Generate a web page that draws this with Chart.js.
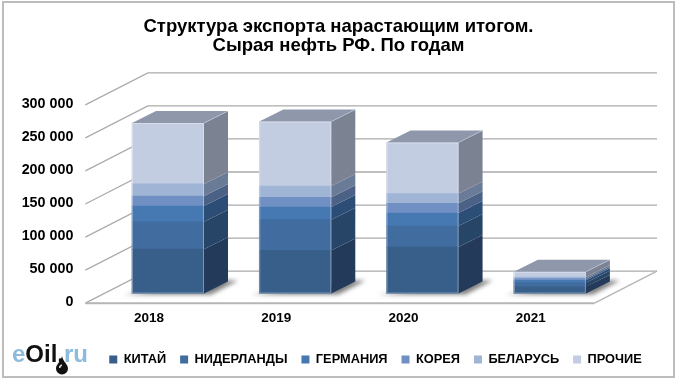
<!DOCTYPE html>
<html lang="ru">
<head>
  <meta charset="UTF-8" />
  <title>Структура экспорта</title>
  <script src="https://cdn.jsdelivr.net/npm/chart.js"></script>
  <style>
    body { margin: 0; background: #fff; }
    #wrap { position: relative; width: 680px; height: 384px; overflow: hidden; }
    canvas { position: absolute; left: 0; top: 0; }
    #frame {
      position: absolute; left: 2px; top: 1px; width: 669px; height: 373px;
      border: 2px solid #bdbdbd; pointer-events: none;
    }
    #logo {
      position: absolute; left: 12px; top: 340px; white-space: nowrap;
      font: bold 24px "Liberation Sans", Arial, sans-serif; color: #8dbbdc;
      filter: blur(0.5px);
    }
    #logo b { color: #111; }
    #drop { position: absolute; left: 55px; top: 355px; }
  </style>
</head>
<body>
  <div id="wrap">
    <canvas id="chart" width="680" height="384"></canvas>
    <div id="logo">e<b>Oil.</b>ru</div>
    <svg id="drop" width="14" height="20" viewBox="0 0 14 20">
      <path d="M7 1 C8 7 13 9 13 13.5 A6 6 0 0 1 1 13.5 C1 9 6 7 7 1 Z" fill="#111" />
      <path d="M4 13 A3 3 0 0 1 7 9.5 L7 11 A2 2 0 0 0 5.4 13 Z" fill="#ddd" />
    </svg>
    <div id="frame"></div>
  </div>

  <script>
    const years = ["2018", "2019", "2020", "2021"];
    const seriesNames = ["КИТАЙ", "НИДЕРЛАНДЫ", "ГЕРМАНИЯ", "КОРЕЯ", "БЕЛАРУСЬ", "ПРОЧИЕ"];
    const china = [67100, 65200, 70200, 10200];
    const netherlands = [41400, 46400, 31800, 6200];
    const germany = [23800, 19200, 19700, 3700];
    const korea = [15200, 14700, 14700, 2300];
    const belarus = [18200, 17100, 14700, 2400];
    const others = [92000, 97400, 77300, 8000];
    const seriesValues = [china, netherlands, germany, korea, belarus, others];

    const frontColors = ["#385e8a", "#416ca0", "#4678b2", "#7090c4", "#a0b4d6", "#c2cde2"];
    const sideColors = ["#243a5a", "#274566", "#2c4d76", "#4b6186", "#6a7b97", "#7b8393"];
    const topColor = "#8f98ab";

    const FONT = '"Liberation Sans", Arial, sans-serif';
    // 3d offsets, px from the plane the bars stand on
    const barDepth = { x: 24, y: -12 };
    const front = { x: -19, y: 9.7 };
    const back = { x: 43.5, y: -22.3 };

    const poly = (ctx, pts) => {
      ctx.beginPath();
      pts.forEach((p, i) => (i ? ctx.lineTo(p[0], p[1]) : ctx.moveTo(p[0], p[1])));
      ctx.closePath();
    };

    const pseudo3d = {
      id: "pseudo3d",
      afterLayout(chart) {
        // title and legend are not centred on the plot in the reference
        chart.titleBlock.left = 0;
        chart.titleBlock.right = 677;
        chart.legend.left = 71;
        chart.legend.right = 680;
      },
      beforeDatasetsDraw(chart) {
        const { ctx, chartArea: a, scales } = chart;
        const y = scales.y;
        ctx.save();
        ctx.strokeStyle = "#ababab";
        ctx.lineWidth = 1.3;
        y.ticks.forEach(t => {
          const py = y.getPixelForValue(t.value);
          ctx.beginPath();
          ctx.moveTo(a.left + front.x, py + front.y);
          ctx.lineTo(a.left + back.x, py + back.y);
          ctx.lineTo(a.right + back.x, py + back.y);
          ctx.stroke();
        });
        // floor
        const by = y.getPixelForValue(0);
        ctx.strokeStyle = "#b5b5b5";
        ctx.lineWidth = 2;
        ctx.beginPath();
        ctx.moveTo(a.left + front.x, by + front.y);
        ctx.lineTo(a.right + front.x, by + front.y);
        ctx.stroke();
        ctx.lineWidth = 1.3;
        ctx.beginPath();
        ctx.moveTo(a.right + front.x, by + front.y);
        ctx.lineTo(a.right + back.x, by + back.y);
        ctx.stroke();
        // shadows under the bars
        ctx.filter = "blur(2px)";
        ctx.fillStyle = "rgba(0,0,0,0.5)";
        chart.getDatasetMeta(0).data.forEach(b => {
          const l = b.x - b.width / 2, r = b.x + b.width / 2;
          poly(ctx, [[l - 8, b.base + 1], [r + 7, b.base + 1], [r + 34, b.base - 13], [r + 24, b.base - 13]]);
          ctx.fill();
        });
        ctx.restore();
      },
      afterDatasetsDraw(chart) {
        const { ctx } = chart;
        const n = seriesValues.length;
        ctx.save();
        seriesValues.forEach((vals, i) => {
          chart.getDatasetMeta(i).data.forEach(b => {
            const r = b.x + b.width / 2;
            ctx.fillStyle = sideColors[i];
            poly(ctx, [[r, b.y], [r + barDepth.x, b.y + barDepth.y], [r + barDepth.x, b.base + barDepth.y], [r, b.base]]);
            ctx.fill();
          });
        });
        chart.getDatasetMeta(n - 1).data.forEach((b, k) => {
          const l = b.x - b.width / 2, r = b.x + b.width / 2;
          const base = chart.getDatasetMeta(0).data[k].base;
          ctx.fillStyle = topColor;
          poly(ctx, [[l, b.y], [l + barDepth.x, b.y + barDepth.y], [r + barDepth.x, b.y + barDepth.y], [r, b.y]]);
          ctx.fill();
          // soft light edges
          ctx.strokeStyle = "rgba(255,255,255,0.35)";
          ctx.lineWidth = 1;
          ctx.strokeRect(l + 0.5, b.y + 0.5, b.width - 1, base - b.y - 1);
          ctx.strokeStyle = "rgba(190,205,230,0.6)";
          ctx.beginPath();
          ctx.moveTo(r, b.y);
          ctx.lineTo(r + barDepth.x, b.y + barDepth.y);
          ctx.stroke();
        });
        ctx.restore();
      },
    };

    new Chart(document.getElementById("chart"), {
      type: "bar",
      data: {
        labels: years,
        datasets: seriesNames.map((name, i) => ({
          label: name,
          data: seriesValues[i],
          backgroundColor: frontColors[i],
          barThickness: 72,
          clip: false,
        })),
      },
      options: {
        responsive: false,
        animation: false,
        layout: { padding: { right: 66.5, bottom: 8 } },
        scales: {
          x: {
            stacked: true,
            grid: { display: false },
            border: { display: false },
            ticks: {
              color: "#000",
              font: { family: FONT, size: 13.5, weight: "bold" },
              padding: 9,
              labelOffset: -19,
              maxRotation: 0,
            },
            afterFit: s => { s.height = 45.7; },
          },
          y: {
            stacked: true,
            min: 0,
            max: 300000,
            grid: { display: false },
            border: { display: false },
            ticks: {
              stepSize: 50000,
              color: "#000",
              font: { family: FONT, size: 14.3, weight: "bold" },
              padding: 23,
              labelOffset: 9,
              callback: v => String(v).replace(/\B(?=(\d{3})+$)/g, " "),
            },
            afterFit: s => { s.width = 104.35; },
          },
        },
        plugins: {
          title: {
            display: true,
            text: ["Структура экспорта нарастающим итогом.", "Сырая нефть РФ. По годам"],
            color: "#000",
            font: { family: FONT, size: 18.5, weight: "bold", lineHeight: 1.03 },
            padding: { top: 17, bottom: 40 },
          },
          legend: {
            position: "bottom",
            labels: {
              color: "#000",
              font: { family: FONT, size: 12.8, weight: "bold" },
              boxWidth: 8,
              boxHeight: 8,
              padding: 14,
            },
          },
          tooltip: { enabled: false },
        },
      },
      plugins: [pseudo3d],
    });
  </script>
</body>
</html>
